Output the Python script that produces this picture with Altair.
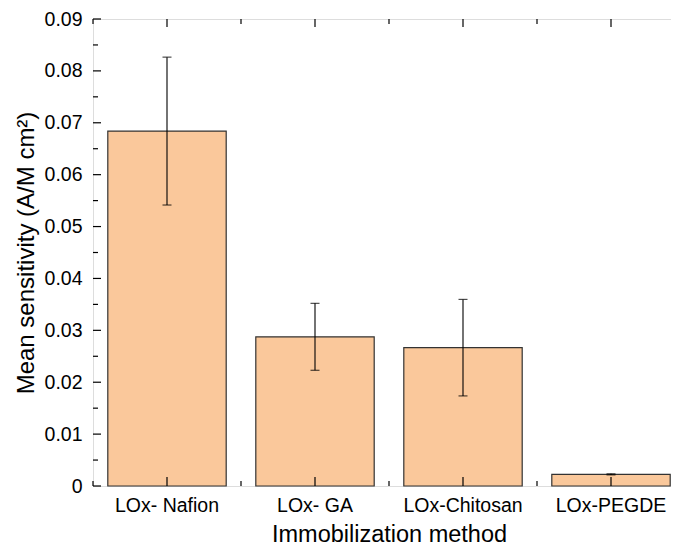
import altair as alt
import pandas as pd

categories = ["LOx- Nafion", "LOx- GA", "LOx-Chitosan", "LOx-PEGDE"]
means = [0.0684, 0.02875, 0.02666, 0.00224]
errors = [0.01425, 0.00645, 0.0093, 0.0001]
major_y = [0, 0.01, 0.02, 0.03, 0.04, 0.05, 0.06, 0.07, 0.08, 0.09]
minor_y = [0.005, 0.015, 0.025, 0.035, 0.045, 0.055, 0.065, 0.075, 0.085]

FONT = "Liberation Sans"
FILL = "#FAC89B"

df = pd.DataFrame({
    "cat": categories,
    "val": means,
    "lo": [m - e for m, e in zip(means, errors)],
    "hi": [m + e for m, e in zip(means, errors)],
})
cat_df = pd.DataFrame({"cat": categories})
ymaj = pd.DataFrame({"v": major_y})
ymin = pd.DataFrame({"v": minor_y})

W, H = 592, 467

xscale = alt.Scale(domain=categories, paddingInner=0, paddingOuter=0)
yscale = alt.Scale(domain=[0, 0.09], nice=False, zero=True)

x_axis = alt.Axis(
    title="Immobilization method", ticks=False, domain=False, labelPadding=25,
    labelBaseline="alphabetic", labelFontSize=19.5, labelColor="black", labelFont=FONT,
    titleFontSize=23.5, titleFont=FONT, titleColor="black", titleFontWeight="normal",
    titleY=55, titleBaseline="alphabetic", labelAngle=0,
)
y_axis = alt.Axis(
    title="Mean sensitivity (A/M cm²)", values=major_y, ticks=False, domain=False,
    grid=False, labelPadding=11, labelFontSize=19.5, labelColor="black", labelFont=FONT,
    labelBaseline="middle",
    labelExpr="datum.value == 0 ? '0' : format(datum.value, '.2f')",
    titleFontSize=24, titleFont=FONT, titleColor="black", titleFontWeight="normal",
    titleX=-67, titleY=H / 2, titleAngle=270, titleBaseline="middle", titleAlign="center",
)

bars = alt.Chart(df).mark_bar(
    width={"band": 0.8}, fill=FILL, stroke="#333333", strokeWidth=1.2
).encode(
    x=alt.X("cat:N", scale=xscale, sort=categories, axis=x_axis),
    y=alt.Y("val:Q", scale=yscale, axis=y_axis),
)

err = alt.Chart(df).mark_rule(color="black", strokeWidth=1.1).encode(
    x=alt.X("cat:N", sort=categories),
    y=alt.Y("lo:Q"),
    y2="hi:Q",
)
cap_hi = alt.Chart(df).mark_tick(color="black", size=9, thickness=1.2).encode(
    x=alt.X("cat:N", sort=categories), y=alt.Y("hi:Q")
)
cap_lo = alt.Chart(df).mark_tick(color="black", size=9, thickness=1.2).encode(
    x=alt.X("cat:N", sort=categories), y=alt.Y("lo:Q")
)

def yticks(data, x0, x1):
    return alt.Chart(data).mark_rule(color="black", strokeWidth=1.2).encode(
        y=alt.Y("v:Q"), x=alt.value(x0), x2=alt.value(x1)
    )

def xticks(y0, y1, band):
    return alt.Chart(cat_df).mark_rule(color="black", strokeWidth=1.2).encode(
        x=alt.X("cat:N", sort=categories, bandPosition=band),
        y=alt.value(y0), y2=alt.value(y1),
    )

layers = [
    bars, err, cap_hi, cap_lo,
    yticks(ymaj, 0, 8), yticks(ymin, 0, 5),
    yticks(ymaj, W, W - 8), yticks(ymin, W, W - 5),
    xticks(H, H - 9, 0.5), xticks(H, H - 5, 0),
    xticks(0, 8, 0.5), xticks(0, 5, 0),
]

chart = alt.layer(*layers).properties(
    width=W, height=H,
    autosize=alt.AutoSizeParams(type="none"),
    padding={"left": 85, "top": 11, "right": -14, "bottom": 61},
).configure_view(
    stroke="black", strokeWidth=1.5
).configure(background="white")

chart.save("out.html", embed_options={"renderer": "svg", "actions": False})
